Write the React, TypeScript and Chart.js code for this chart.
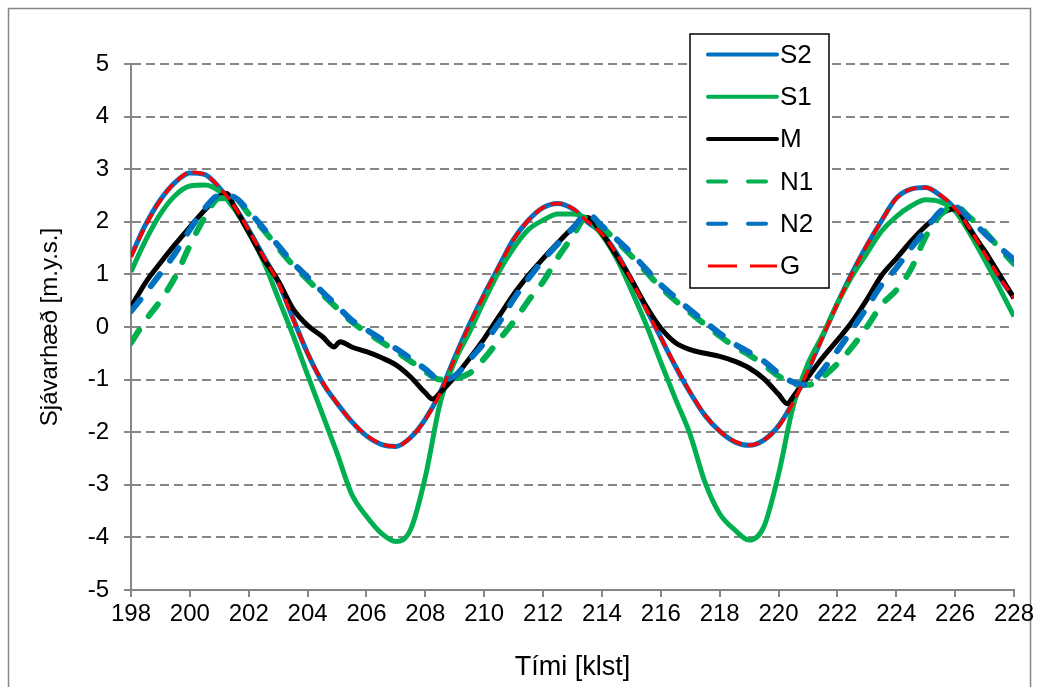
import React, { useEffect, useRef } from 'react';
import { Chart, registerables } from 'chart.js';

Chart.register(...registerables);

// Time axis (hours) shared by most series
const hours = [
  198, 198.5, 199, 199.5, 200, 200.5, 201, 201.5, 202, 202.5,
  203, 203.5, 204, 204.5, 205, 205.5, 206, 206.5, 207, 207.5,
  208, 208.5, 209, 209.5, 210, 210.5, 211, 211.5, 212, 212.5,
  213, 213.5, 214, 214.5, 215, 215.5, 216, 216.5, 217, 217.5,
  218, 218.5, 219, 219.5, 220, 220.5, 221, 221.5, 222, 222.5,
  223, 223.5, 224, 224.5, 225, 225.5, 226, 226.5, 227, 227.5,
  228,
];

const s2Values = [
  1.35, 1.95, 2.42, 2.75, 2.93, 2.9, 2.65, 2.3, 1.85, 1.35,
  0.85, 0.17, -0.5, -1.05, -1.45, -1.8, -2.07, -2.23, -2.27, -2.1,
  -1.75, -1.25, -0.58, 0.05, 0.62, 1.15, 1.67, 2.03, 2.27, 2.35,
  2.25, 2.0, 1.78, 1.4, 0.9, 0.35, -0.2, -0.75, -1.25, -1.68,
  -1.98, -2.18, -2.25, -2.15, -1.88, -1.42, -0.82, -0.18, 0.45, 1.03,
  1.55, 2.02, 2.45, 2.62, 2.65, 2.5, 2.25, 1.88, 1.4, 0.95,
  0.55,
];

const s1Values = [
  1.05, 1.65, 2.15, 2.5, 2.68, 2.7, 2.58, 2.25, 1.8, 1.25,
  0.55, -0.15, -0.91, -1.65, -2.4, -3.18, -3.6, -3.92, -4.08, -3.85,
  -2.85, -1.45, -0.65, -0.1, 0.5, 1.05, 1.5, 1.85, 2.03, 2.15,
  2.15, 2.05, 1.75, 1.3, 0.7, 0.05, -0.67, -1.37, -2.05, -2.95,
  -3.55, -3.85, -4.05, -3.8, -2.8, -1.5, -0.7, -0.15, 0.45, 0.97,
  1.4, 1.82, 2.1, 2.3, 2.42, 2.38, 2.2, 1.78, 1.28, 0.75,
  0.2,
];

// M has its own (denser near the kinks) time points
const mHours = [
  198, 198.5, 199, 199.5, 200, 200.5, 201, 201.25, 201.5, 202,
  202.5, 203, 203.5, 204, 204.5, 204.9, 205.1, 205.5, 206, 206.5,
  207, 207.5, 208, 208.25, 208.5, 209, 209.5, 210, 210.5, 211,
  211.5, 212, 212.5, 213, 213.5, 214, 214.5, 215, 215.5, 216,
  216.5, 217, 217.5, 218, 218.5, 219, 219.5, 220, 220.3, 220.5,
  221, 221.5, 222, 222.5, 223, 223.5, 224, 224.5, 225, 225.5,
  226, 226.5, 227, 227.5, 228,
];

const mValues = [
  0.38, 0.85, 1.22, 1.57, 1.9, 2.22, 2.48, 2.54, 2.3, 1.8,
  1.3, 0.88, 0.35, 0.03, -0.18, -0.38, -0.28, -0.38, -0.47, -0.58,
  -0.72, -0.95, -1.25, -1.37, -1.25, -0.95, -0.6, -0.22, 0.2, 0.62,
  0.98, 1.3, 1.6, 1.88, 2.08, 1.78, 1.35, 0.9, 0.4, -0.02,
  -0.3, -0.43, -0.5, -0.56, -0.65, -0.78, -0.98, -1.28, -1.46, -1.32,
  -0.95, -0.58, -0.25, 0.1, 0.52, 0.98, 1.3, 1.63, 1.92, 2.15,
  2.25, 1.85, 1.45, 1.0, 0.55,
];

const n1Values = [
  -0.3, 0.13, 0.5, 0.95, 1.55, 2.08, 2.45, 2.45, 2.15, 1.85,
  1.5, 1.18, 0.9, 0.62, 0.36, 0.1, -0.1, -0.28, -0.46, -0.65,
  -0.85, -1.0, -0.98, -0.88, -0.6, -0.25, 0.1, 0.5, 0.86, 1.32,
  1.72, 2.1, 1.9, 1.63, 1.35, 1.05, 0.75, 0.5, 0.27, 0.05,
  -0.17, -0.37, -0.53, -0.72, -0.93, -1.08, -1.1, -0.95, -0.7, -0.38,
  0.0, 0.42, 0.7, 1.1, 1.72, 2.13, 2.3, 2.08, 1.82, 1.5,
  1.2,
];

const n2Values = [
  0.3, 0.65, 1.02, 1.4, 1.85, 2.25, 2.5, 2.47, 2.2, 1.88,
  1.55, 1.22, 0.95, 0.67, 0.4, 0.13, -0.05, -0.23, -0.41, -0.6,
  -0.8, -1.0, -0.93, -0.62, -0.3, 0.08, 0.53, 0.92, 1.27, 1.58,
  1.87, 2.15, 1.92, 1.67, 1.4, 1.1, 0.8, 0.56, 0.32, 0.1,
  -0.12, -0.32, -0.48, -0.65, -0.88, -1.05, -1.1, -0.82, -0.45, -0.05,
  0.37, 0.8, 1.12, 1.5, 1.85, 2.2, 2.28, 2.05, 1.78, 1.52,
  1.28,
];

const gValues = [
  1.33, 1.93, 2.41, 2.75, 2.94, 2.9, 2.66, 2.3, 1.84, 1.34,
  0.84, 0.16, -0.5, -1.04, -1.45, -1.8, -2.06, -2.22, -2.27, -2.1,
  -1.76, -1.26, -0.6, 0.04, 0.61, 1.15, 1.66, 2.03, 2.27, 2.35,
  2.26, 2.01, 1.77, 1.39, 0.9, 0.34, -0.2, -0.74, -1.24, -1.67,
  -1.98, -2.17, -2.25, -2.15, -1.89, -1.43, -0.83, -0.19, 0.44, 1.02,
  1.55, 2.02, 2.44, 2.62, 2.65, 2.51, 2.25, 1.87, 1.4, 0.95,
  0.55,
];

const seriesLabels = ['S2', 'S1', 'M', 'N1', 'N2', 'G'];
const xTitle = 'Tími [klst]';
const yTitle = 'Sjávarhæð [m.y.s.]';
const xMin = 198;
const xMax = 228;
const xStep = 2;
const yMin = -5;
const yMax = 5;
const yStep = 1;

const BLUE = '#0070C0';
const GREEN = '#00B050';
const AXIS = '#868686';
const FONT = "'Liberation Sans', Arial, sans-serif";

const pts = (xs: number[], ys: number[]) => xs.map((x, i) => ({ x, y: ys[i] }));

const frameAndLegend = {
  id: 'frameAndLegend',
  beforeDraw(chart: any) {
    const ctx = chart.ctx;
    ctx.save();
    ctx.fillStyle = '#ffffff';
    ctx.fillRect(0, 0, chart.width, chart.height);
    ctx.strokeStyle = AXIS;
    ctx.lineWidth = 1.5;
    ctx.strokeRect(8.5, 8.5, 1022, 700);
    ctx.restore();
  },
  afterDraw(chart: any) {
    const ctx = chart.ctx;
    const bx = 690, by = 34, bw = 139, bh = 254;
    ctx.save();
    ctx.fillStyle = '#ffffff';
    ctx.fillRect(bx, by, bw, bh);
    ctx.strokeStyle = '#000000';
    ctx.lineWidth = 1.5;
    ctx.strokeRect(bx, by, bw, bh);
    const legendDash: Record<string, number[]> = { N1: [18, 22], N2: [18, 22], G: [29, 13] };
    chart.data.datasets.forEach((ds: any, i: number) => {
      const cy = 54.5 + i * 42.3;
      ctx.beginPath();
      ctx.strokeStyle = ds.borderColor;
      ctx.lineWidth = ds.label === 'G' ? 3 : 4;
      ctx.lineCap = ds.label === 'G' ? 'butt' : 'round';
      ctx.setLineDash(legendDash[ds.label] || []);
      ctx.moveTo(708, cy);
      ctx.lineTo(777, cy);
      ctx.stroke();
      ctx.setLineDash([]);
      ctx.fillStyle = '#000000';
      ctx.font = `26px ${FONT}`;
      ctx.textAlign = 'left';
      ctx.textBaseline = 'middle';
      ctx.fillText(ds.label, 780, cy + 1);
    });
    ctx.restore();
  },
};

export default function App() {
  const ref = useRef<HTMLCanvasElement | null>(null);

  useEffect(() => {
    if (!ref.current) return;
    const common = { pointRadius: 0, fill: false, cubicInterpolationMode: 'monotone' as const, borderJoinStyle: 'round' as const };
    const chart = new Chart(ref.current, {
      type: 'line',
      data: {
        datasets: [
          { ...common, label: seriesLabels[0], data: pts(hours, s2Values), borderColor: BLUE, borderWidth: 5, order: 6 },
          { ...common, label: seriesLabels[1], data: pts(hours, s1Values), borderColor: GREEN, borderWidth: 5, order: 5 },
          { ...common, label: seriesLabels[2], data: pts(mHours, mValues), borderColor: '#000000', borderWidth: 5, order: 4 },
          { ...common, label: seriesLabels[3], data: pts(hours, n1Values), borderColor: GREEN, borderWidth: 6, borderDash: [15, 17], borderCapStyle: 'round', order: 3 },
          { ...common, label: seriesLabels[4], data: pts(hours, n2Values), borderColor: BLUE, borderWidth: 6, borderDash: [15, 17], borderCapStyle: 'round', order: 2 },
          { ...common, label: seriesLabels[5], data: pts(hours, gValues), borderColor: '#FF0000', borderWidth: 3.5, borderDash: [12, 6], order: 1 },
        ],
      },
      options: {
        animation: false,
        responsive: false,
        maintainAspectRatio: false,
        layout: { padding: { left: 0, right: 25, top: 64, bottom: 0 } },
        plugins: { legend: { display: false }, tooltip: { enabled: false } },
        scales: {
          x: {
            type: 'linear',
            min: xMin,
            max: xMax,
            afterFit: (scale: any) => { scale.height = 97; },
            ticks: { stepSize: xStep, color: '#000', font: { family: FONT, size: 24 }, padding: 3, maxRotation: 0 },
            grid: { drawOnChartArea: false, drawTicks: true, tickLength: 7, color: AXIS, lineWidth: 2 },
            border: { display: true, color: AXIS, width: 2 },
            title: { display: true, text: xTitle, color: '#000', font: { family: FONT, size: 27 }, padding: { bottom: 3, top: 0 } },
          },
          y: {
            type: 'linear',
            min: yMin,
            max: yMax,
            afterFit: (scale: any) => { scale.width = 131; },
            ticks: { stepSize: yStep, color: '#000', font: { family: FONT, size: 24 }, padding: 15 },
            grid: { drawOnChartArea: true, drawTicks: true, tickLength: 7, color: AXIS, lineWidth: 2 },
            border: { display: true, color: AXIS, width: 2, dash: [9, 5] },
            title: { display: true, text: yTitle, color: '#000', font: { family: FONT, size: 24 }, padding: { top: 36, bottom: 0 } },
          },
        },
      },
      plugins: [frameAndLegend],
    });
    return () => chart.destroy();
  }, []);

  return (
    <div style={{ position: 'absolute', left: 0, top: 0, width: 1039, height: 687, overflow: 'hidden', background: '#fff' }}>
      <canvas ref={ref} width={1039} height={687} style={{ display: 'block', width: 1039, height: 687 }} />
    </div>
  );
}
